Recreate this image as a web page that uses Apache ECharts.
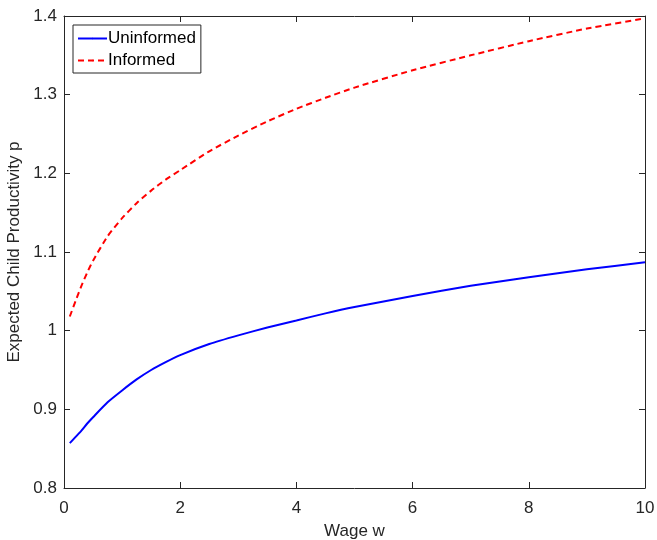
<!DOCTYPE html>
<html>
<head>
<meta charset="utf-8">
<script src="https://cdn.jsdelivr.net/npm/echarts@6/dist/echarts.min.js"></script>
<style>html,body{margin:0;padding:0;background:#fff;}#c{width:657px;height:540px;}</style>
</head>
<body>
<div id="c"></div>
<script>
var wage = [0.1, 0.2, 0.3, 0.4, 0.5, 0.75, 1.0, 1.25, 1.5, 1.75, 2.0, 2.5, 3.0, 3.5, 4.0, 4.5, 5.0, 6.0, 7.0, 8.0, 9.0, 10.0];
var uninformed = [0.857, 0.865, 0.873, 0.882, 0.890, 0.909, 0.924, 0.938, 0.950, 0.960, 0.969, 0.983, 0.994, 1.004, 1.013, 1.022, 1.030, 1.044, 1.057, 1.068, 1.078, 1.087];
var informed = [1.018, 1.038, 1.057, 1.074, 1.089, 1.120, 1.143, 1.162, 1.178, 1.192, 1.204, 1.228, 1.248, 1.266, 1.282, 1.296, 1.309, 1.331, 1.350, 1.368, 1.384, 1.397];
var xTicks = [0, 2, 4, 6, 8, 10];
var yTicks = [0.8, 0.9, 1.0, 1.1, 1.2, 1.3, 1.4];

function pairs(xs, ys) { return xs.map(function (x, i) { return [x, ys[i]]; }); }

var font = 'Liberation Sans, Arial, Helvetica, sans-serif';
var axisCol = '#262626';
var chart = echarts.init(document.getElementById('c'), null, {renderer: 'canvas'});
var baseX = {
  type: 'value', min: 0, max: 10, interval: 2,
  axisLine: {show: true, onZero: false, lineStyle: {color: axisCol, width: 1}},
  axisTick: {show: true, inside: true, length: 6, lineStyle: {color: axisCol}},
  splitLine: {show: false}
};
var baseY = {
  type: 'value', min: 0.8, max: 1.4, interval: 0.1,
  axisLine: {show: true, onZero: false, lineStyle: {color: axisCol, width: 1}},
  axisTick: {show: true, inside: true, length: 6, lineStyle: {color: axisCol}},
  splitLine: {show: false}
};
chart.setOption({
  animation: false,
  backgroundColor: '#fff',
  grid: {left: 64, right: 12, top: 16, bottom: 52, containLabel: false, outerBoundsMode: 'none'},
  legend: {
    left: 73, top: 25, orient: 'vertical',
    data: ['Uninformed', 'Informed'],
    itemWidth: 29, itemHeight: 2, itemGap: 5,
    padding: [5, 5, 4, 4],
    borderColor: axisCol, borderWidth: 1, backgroundColor: '#fff', borderRadius: 0,
    textStyle: {fontFamily: font, fontSize: 17, color: '#000', padding: [0, 0, 0, -4]}
  },
  xAxis: [
    Object.assign({}, baseX, {
      position: 'bottom',
      name: 'Wage w', nameLocation: 'middle', nameGap: 35,
      nameTextStyle: {fontFamily: font, fontSize: 17, color: axisCol},
      axisLabel: {fontFamily: font, fontSize: 17, color: axisCol, margin: 12,
        formatter: function (v) { return xTicks.indexOf(v) >= 0 ? String(v) : ''; }}
    }),
    Object.assign({}, baseX, {position: 'top', axisLabel: {show: false}})
  ],
  yAxis: [
    Object.assign({}, baseY, {
      position: 'left',
      name: 'Expected Child Productivity p', nameLocation: 'middle', nameGap: 34,
      nameTextStyle: {fontFamily: font, fontSize: 17, color: axisCol},
      axisLabel: {fontFamily: font, fontSize: 17, color: axisCol, margin: 7,
        formatter: function (v) {
          for (var i = 0; i < yTicks.length; i++) {
            if (Math.abs(yTicks[i] - v) < 1e-9) { return String(yTicks[i]); }
          }
          return '';
        }}
    }),
    Object.assign({}, baseY, {position: 'right', axisLabel: {show: false}})
  ],
  series: [
    {
      name: 'Uninformed', type: 'line', data: pairs(wage, uninformed),
      smooth: 0.2, symbol: 'none', showSymbol: false,
      lineStyle: {color: '#0000ff', width: 2},
      itemStyle: {color: '#0000ff'}
    },
    {
      name: 'Informed', type: 'line', data: pairs(wage, informed),
      smooth: 0.2, symbol: 'none', showSymbol: false,
      lineStyle: {color: '#ff0000', width: 2, type: [6, 4]},
      itemStyle: {color: '#ff0000'}
    }
  ]
});
</script>
</body>
</html>
